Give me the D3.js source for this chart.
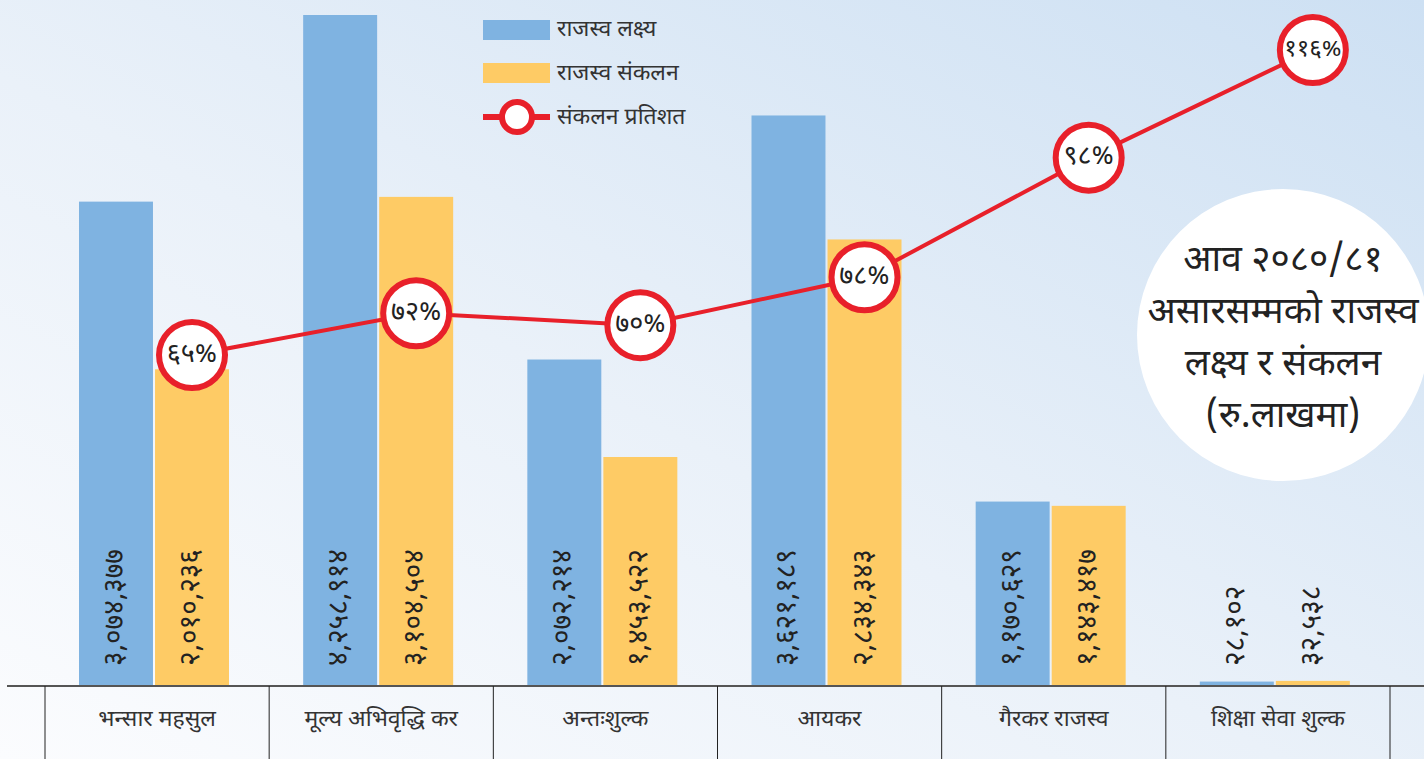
<!DOCTYPE html>
<html>
<head>
<meta charset="utf-8">
<script src="https://cdn.jsdelivr.net/npm/d3@7"></script>
<style>
  body { margin: 0; overflow: hidden; }
  text { font-family: "Noto Sans Devanagari", "Noto Sans", "Lohit Devanagari", sans-serif; }
</style>
</head>
<body>
<div id="chart"></div>
<script>
// categories and values (रु. लाखमा)
let categories = ["भन्सार महसुल", "मूल्य अभिवृद्धि कर", "अन्तःशुल्क", "आयकर", "गैरकर राजस्व", "शिक्षा सेवा शुल्क"];
let target = [3074377, 4258914, 2072214, 3621189, 1170629, 28102];
let collection = [2010236, 3104504, 1453522, 2834343, 1143417, 32538];
let percent = [65, 72, 70, 78, 98, 116];
let legendLabels = ["राजस्व लक्ष्य", "राजस्व संकलन", "संकलन प्रतिशत"];
let titleLines = ["आव २०८०/८१", "असारसम्मको राजस्व", "लक्ष्य र संकलन", "(रु.लाखमा)"];

let w = 1424, h = 759;
let base = 686;
let blue = "#7fb3e1", yellow = "#fecb65", red = "#e8202a";

// turn 1234 into १,२३४
let devDigits = "०१२३४५६७८९";
function dev(n){
  return n.toLocaleString("en-US").replace(/[0-9]/g, d => devDigits[+d]);
}

let svg = d3.select("#chart").append("svg")
  .attr("width", w)
  .attr("height", h);

// background gradient, white bottom-left to light blue top-right
let grad = svg.append("defs").append("linearGradient")
  .attr("id", "bg")
  .attr("x1", 0).attr("y1", 1).attr("x2", 1).attr("y2", 0);
grad.append("stop").attr("offset", "0%").attr("stop-color", "#fbfcfe");
grad.append("stop").attr("offset", "45%").attr("stop-color", "#eaf1f9");
grad.append("stop").attr("offset", "100%").attr("stop-color", "#cde0f3");
svg.append("rect").attr("width", w).attr("height", h).attr("fill", "url(#bg)");

let data = categories.map((c, i) => ({cat: c, target: target[i], collection: collection[i], pct: percent[i]}));

let xScale = d3.scaleBand().domain(categories).range([45, 1390]);
let xSub = d3.scaleBand().domain(["target", "collection"]).range([34, 184]).paddingInner(0.027);
let yScale = d3.scaleLinear().domain([0, d3.max(target)]).range([base, 15]);
let pScale = d3.scaleLinear().domain([0, 120]).range([744, 26]);

// big white circle with title
let tg = svg.append("g");
tg.append("circle").attr("cx", 1283).attr("cy", 335).attr("r", 146).attr("fill", "white");
tg.selectAll("text").data(titleLines).enter().append("text")
  .attr("x", 1283)
  .attr("y", (d, i) => 262 + i * 52)
  .attr("text-anchor", "middle")
  .attr("dominant-baseline", "central")
  .attr("font-size", 37)
  .attr("fill", "#222")
  .text(d => d);

// bars
let groups = svg.selectAll(".grp").data(data).enter().append("g")
  .attr("class", "grp")
  .attr("transform", d => "translate(" + xScale(d.cat) + ",0)");

["target", "collection"].forEach(key => {
  groups.append("rect")
    .attr("x", xSub(key))
    .attr("width", xSub.bandwidth())
    .attr("y", d => yScale(d[key]))
    .attr("height", d => base - yScale(d[key]))
    .attr("fill", key == "target" ? blue : yellow);

  groups.append("text")
    .attr("transform", d => "translate(" + (xSub(key) + xSub.bandwidth() / 2) + "," + 666 + ") rotate(-90)")
    .attr("dominant-baseline", "central")
    .attr("font-size", 28)
    .attr("fill", "#222")
    .text(d => dev(d[key]));
});

// axis line and dividers
svg.append("line")
  .attr("x1", 7).attr("x2", w)
  .attr("y1", base).attr("y2", base)
  .attr("stroke", "#555").attr("stroke-width", 2);

let edges = categories.map(c => xScale(c)).concat([xScale.range()[1]]);
svg.selectAll(".div").data(edges).enter().append("line")
  .attr("x1", d => d).attr("x2", d => d)
  .attr("y1", base).attr("y2", h)
  .attr("stroke", "#222").attr("stroke-width", 1);

svg.selectAll(".catlabel").data(categories).enter().append("text")
  .attr("x", d => xScale(d) + xScale.bandwidth() / 2)
  .attr("y", 720)
  .attr("text-anchor", "middle")
  .attr("dominant-baseline", "central")
  .attr("font-size", 23)
  .attr("fill", "#333")
  .text(d => d);

// percentage line
let px = d => xScale(d.cat) + xSub("collection") + xSub.bandwidth() / 2;
svg.append("path")
  .datum(data)
  .attr("fill", "none")
  .attr("stroke", red)
  .attr("stroke-width", 4)
  .attr("d", d3.line().x(px).y(d => pScale(d.pct)));

let dots = svg.selectAll(".dot").data(data).enter().append("g")
  .attr("transform", d => "translate(" + px(d) + "," + pScale(d.pct) + ")");
dots.append("circle")
  .attr("r", 33)
  .attr("fill", "white")
  .attr("stroke", red)
  .attr("stroke-width", 6);
dots.append("text")
  .attr("text-anchor", "middle")
  .attr("dominant-baseline", "central")
  .attr("font-size", d => d.pct >= 100 ? 24 : 27)
  .attr("fill", "#222")
  .text(d => dev(d.pct) + "%");

// legend
let lg = svg.append("g").attr("transform", "translate(483,0)");
lg.append("rect").attr("y", 20).attr("width", 67).attr("height", 20).attr("fill", blue);
lg.append("rect").attr("y", 63).attr("width", 67).attr("height", 20).attr("fill", yellow);
lg.append("line").attr("x1", 0).attr("x2", 67).attr("y1", 117).attr("y2", 117)
  .attr("stroke", red).attr("stroke-width", 6);
lg.append("circle").attr("cx", 34).attr("cy", 117).attr("r", 15)
  .attr("fill", "white").attr("stroke", red).attr("stroke-width", 6);
lg.selectAll("text").data(legendLabels).enter().append("text")
  .attr("x", 74)
  .attr("y", (d, i) => 30 + i * 44)
  .attr("dominant-baseline", "central")
  .attr("font-size", 23)
  .attr("fill", "#333")
  .text(d => d);
</script>
</body>
</html>
